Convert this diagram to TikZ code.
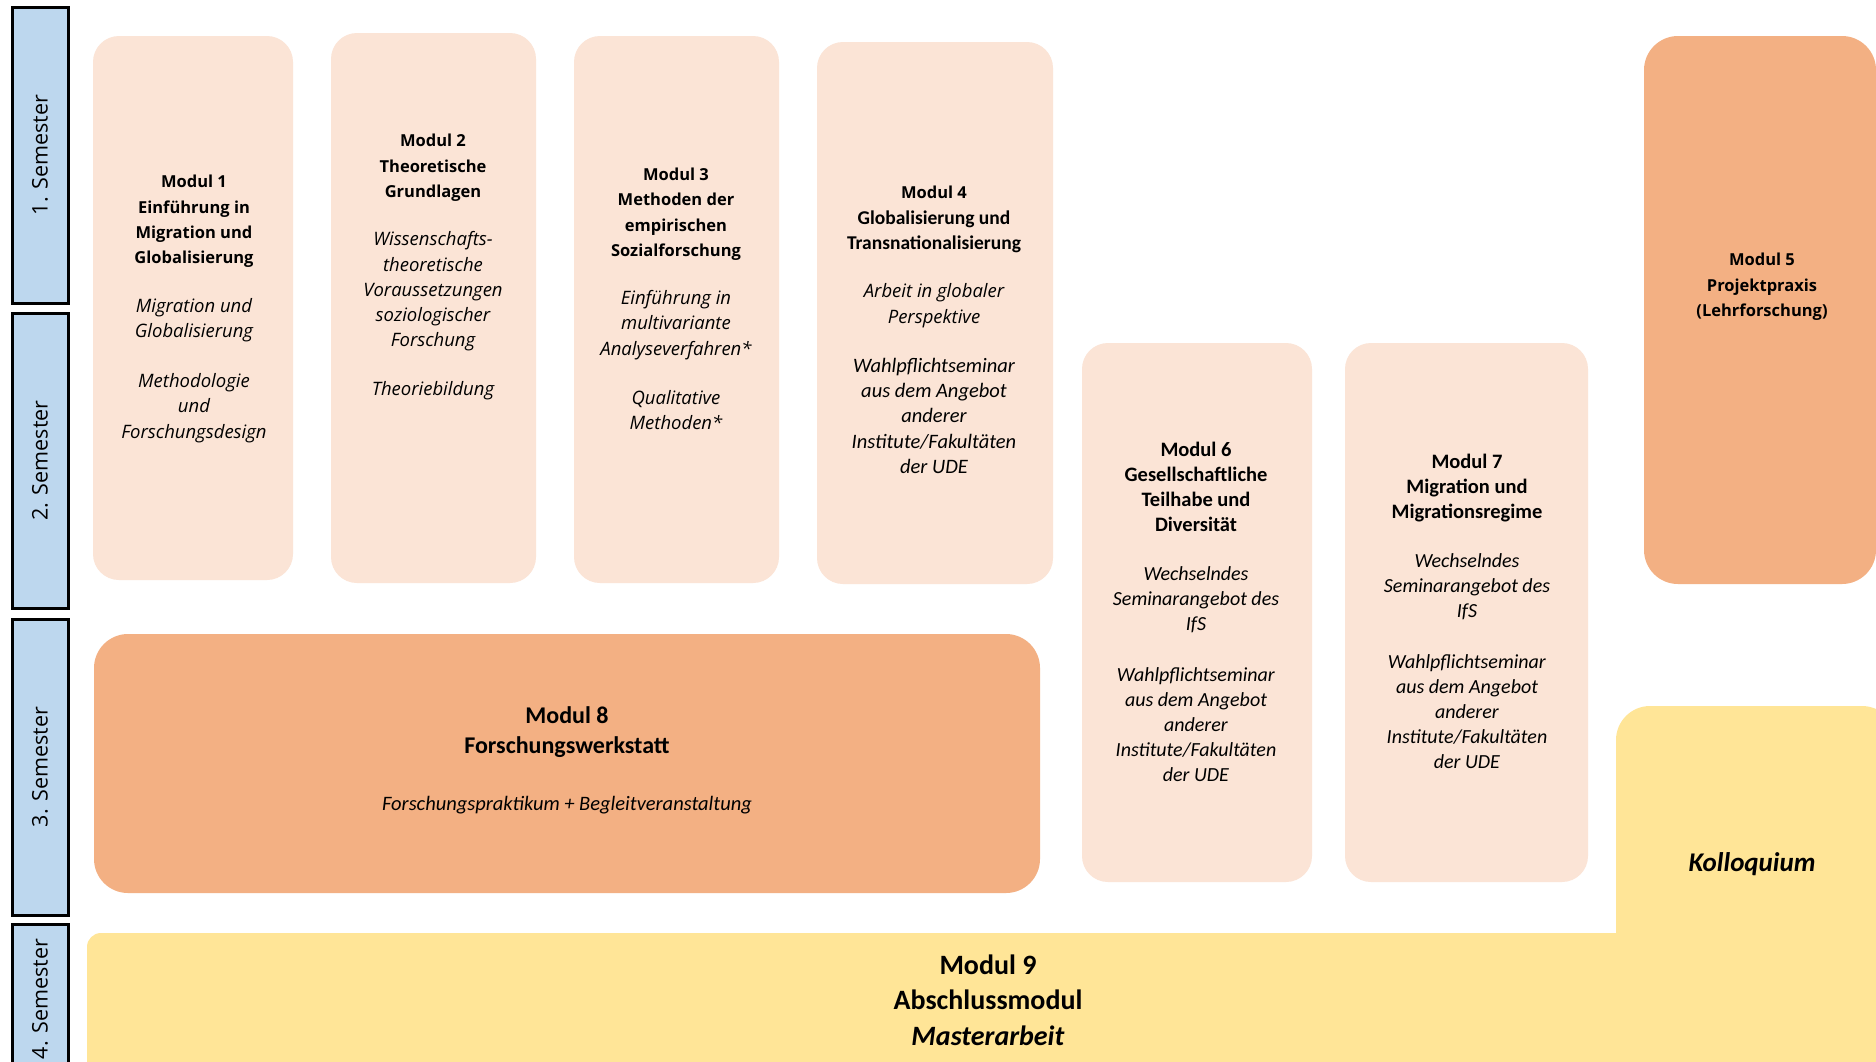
\documentclass[tikz,border=0pt]{standalone}
\usepackage{fontspec}
\setmainfont{Open Sans}
\newfontfamily\calfam{Carlito}
\definecolor{semblue}{HTML}{BDD7EE}
\definecolor{peach}{HTML}{FBE4D6}
\definecolor{orng}{HTML}{F3B083}
\definecolor{yel}{HTML}{FFE597}
\tikzset{
  semester/.style={draw=black, line width=3pt, fill=semblue, inner sep=0pt},
  semtext/.style={rotate=90, font=\fontsize{21.5}{25}\selectfont},
  light/.style={fill=peach, rounded corners=26pt, inner sep=0pt},
  dark/.style={fill=orng, rounded corners=34pt, inner sep=0pt},
  ybox/.style={fill=yel, inner sep=0pt},
  segtext/.style={align=center, font=\fontsize{16.5}{25.3}\selectfont},
  caltext/.style={align=center, font=\calfam\fontsize{20}{25}\selectfont},
}
\newcommand{\cbf}[1]{{\calfam\bfseries\fontsize{19.5}{25.3}\selectfont #1}}
\newcommand{\cit}[1]{{\calfam\itshape\fontsize{20.5}{25.3}\selectfont #1}}
\newcommand{\sit}[1]{{\itshape\fontsize{18.5}{25.3}\selectfont #1}}
\newcommand{\kbf}[1]{{\bfseries\fontsize{20.5}{25}\selectfont #1}}
\begin{document}
\begin{tikzpicture}[x=1pt,y=-1pt]
\useasboundingbox (0,0) rectangle (1876,1061);
\fill[white] (0,0) rectangle (1876,1061);
% semester labels
\node[semester, minimum width=56pt, minimum height=296pt] (s1) at (40,155) {};
\node[semester, minimum width=56pt, minimum height=295pt] (s2) at (40,460.5) {};
\node[semester, minimum width=56pt, minimum height=296pt] (s3) at (40,767) {};
\node[semester, minimum width=56pt, minimum height=170pt] (s4) at (40,1009) {};
\node[semtext] (s1t) at (40,155) {1. Semester};
\node[semtext] (s2t) at (40,460.5) {2. Semester};
\node[semtext] (s3t) at (40,767) {3. Semester};
\node[semtext] (s4t) at (40,999) {4. Semester};
% module boxes
\node[light, minimum width=200pt, minimum height=544pt] (m1) at (193,308) {};
\node[light, minimum width=205pt, minimum height=550pt] (m2) at (433.5,308) {};
\node[light, minimum width=205pt, minimum height=547pt] (m3) at (676.5,309.5) {};
\node[light, minimum width=236pt, minimum height=542pt] (m4) at (935,313) {};
\node[dark, minimum width=232pt, minimum height=548pt] (m5) at (1760,310) {};
\node[light, minimum width=230pt, minimum height=539pt] (m6) at (1197,612.5) {};
\node[light, minimum width=243pt, minimum height=539pt] (m7) at (1466.5,612.5) {};
\node[dark, minimum width=946pt, minimum height=259pt] (m8) at (567,763.5) {};
\node[ybox, rounded corners=14pt, minimum width=1830pt, minimum height=170pt] (m9) at (1002,1018) {};
\node[ybox, rounded corners=34pt, minimum width=280pt, minimum height=400pt] (koll) at (1756,906) {};
% texts
\node[segtext] (m1t) at (194,309) {\textbf{Modul 1}\\\textbf{Einführung in}\\\textbf{Migration und}\\\textbf{Globalisierung}\\[23pt]
\sit{Migration und}\\\sit{Globalisierung}\\[25pt]\sit{Methodologie}\\\sit{und}\\\sit{Forschungsdesign}};
\node[segtext] (m2t) at (433,267) {\textbf{Modul 2}\\\textbf{Theoretische}\\\textbf{Grundlagen}\\[23pt]
\sit{Wissenschafts-}\\\sit{theoretische}\\\sit{Voraussetzungen}\\\sit{soziologischer}\\\sit{Forschung}\\[23pt]\sit{Theoriebildung}};
\node[segtext] (m3t) at (676,299) {\textbf{Modul 3}\\\textbf{Methoden der}\\\textbf{empirischen}\\\textbf{Sozialforschung}\\[23pt]
\sit{Einführung in}\\\sit{multivariante}\\\sit{Analyseverfahren*}\\[24pt]\sit{Qualitative}\\\sit{Methoden*}};
\node[segtext] (m4t) at (934,330) {\textbf{Modul 4}\\\cbf{Globalisierung und}\\\cbf{Transnationalisierung}\\[23pt]
\sit{Arbeit in globaler}\\\sit{Perspektive}\\[24pt]\cit{Wahlpflichtseminar}\\\cit{aus dem Angebot}\\\cit{anderer}\\\cit{Institute/Fakultäten}\\\cit{der UDE}};
\node[segtext] (m5t) at (1762,287) {\textbf{Modul 5}\\\textbf{Projektpraxis}\\\textbf{(Lehrforschung)}};
\node[caltext] (m6t) at (1196,612) {\kbf{Modul 6}\\\kbf{Gesellschaftliche}\\\kbf{Teilhabe und}\\\kbf{Diversität}\\[24pt]
\textit{Wechselndes}\\\textit{Seminarangebot des}\\\textit{IfS}\\[26pt]\textit{Wahlpflichtseminar}\\\textit{aus dem Angebot}\\\textit{anderer}\\\textit{Institute/Fakultäten}\\\textit{der UDE}};
\node[caltext] (m7t) at (1467,611) {\kbf{Modul 7}\\\kbf{Migration und}\\\kbf{Migrationsregime}\\[24pt]
\textit{Wechselndes}\\\textit{Seminarangebot des}\\\textit{IfS}\\[26pt]\textit{Wahlpflichtseminar}\\\textit{aus dem Angebot}\\\textit{anderer}\\\textit{Institute/Fakultäten}\\\textit{der UDE}};
\node[align=center, font=\calfam\bfseries\fontsize{24}{30}\selectfont] (m8t) at (567,732) {Modul 8\\Forschungswerkstatt};
\node[font=\calfam\itshape\fontsize{20.5}{24}\selectfont] (m8s) at (567,805) {Forschungspraktikum + Begleitveranstaltung};
\node[align=center, font=\calfam\bfseries\fontsize{28}{35.5}\selectfont] (m9t) at (988,1000) {Modul 9\\Abschlussmodul\\\textit{Masterarbeit}};
\node[font=\calfam\bfseries\itshape\fontsize{27}{32}\selectfont] (kollt) at (1752,864) {Kolloquium};
\end{tikzpicture}
\end{document}
